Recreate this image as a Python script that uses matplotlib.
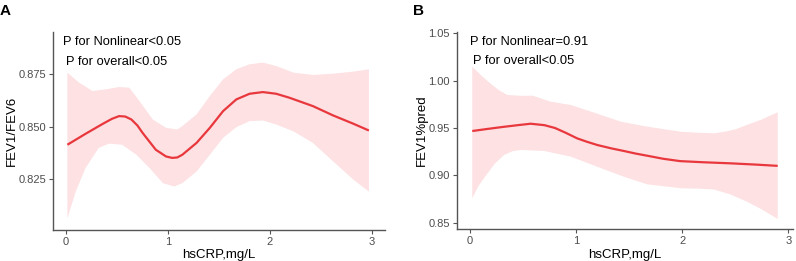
import matplotlib
matplotlib.use("Agg")
import matplotlib.pyplot as plt

plt.rcParams['font.family'] = ['Liberation Sans', 'DejaVu Sans']

# Panel A: FEV1/FEV6
a_x = [0.013, 0.19, 0.36, 0.45, 0.52, 0.58, 0.64, 0.70, 0.75, 0.88, 0.98, 1.04, 1.09, 1.14, 1.28, 1.41, 1.54, 1.67, 1.80, 1.93, 2.06, 2.19, 2.42, 2.62, 2.82, 2.97]
a_fit = [0.8413, 0.8465, 0.8513, 0.8537, 0.8550, 0.8548, 0.8534, 0.8505, 0.8470, 0.8389, 0.8357, 0.8350, 0.8352, 0.8365, 0.8422, 0.8494, 0.8574, 0.8630, 0.8657, 0.8665, 0.8657, 0.8638, 0.8598, 0.8553, 0.8513, 0.8481]
a_up_x = [0.013, 0.128, 0.26, 0.39, 0.52, 0.62, 0.72, 0.85, 0.98, 1.09, 1.14, 1.28, 1.41, 1.54, 1.67, 1.80, 1.93, 2.06, 2.23, 2.42, 2.62, 2.82, 2.97]
a_up = [0.8758, 0.8710, 0.8670, 0.8678, 0.8689, 0.8686, 0.8622, 0.8534, 0.8494, 0.8486, 0.8502, 0.8558, 0.8646, 0.8726, 0.8774, 0.8798, 0.8806, 0.8790, 0.8758, 0.8747, 0.8753, 0.8763, 0.8774]
a_lo_x = [0.013, 0.095, 0.19, 0.32, 0.42, 0.55, 0.69, 0.82, 0.95, 1.06, 1.14, 1.28, 1.41, 1.54, 1.67, 1.80, 1.93, 2.06, 2.23, 2.42, 2.62, 2.82, 2.97]
a_lo = [0.8061, 0.8189, 0.8301, 0.8398, 0.8418, 0.8413, 0.8365, 0.8301, 0.8229, 0.8213, 0.8229, 0.8285, 0.8365, 0.8446, 0.8497, 0.8526, 0.8529, 0.8510, 0.8477, 0.8422, 0.8333, 0.8245, 0.8189]

# Panel B: FEV1%pred
b_x = [0.02, 0.15, 0.30, 0.45, 0.57, 0.70, 0.80, 0.90, 1.01, 1.10, 1.20, 1.33, 1.45, 1.56, 1.67, 1.82, 1.98, 2.20, 2.45, 2.70, 2.90]
b_fit = [0.9468, 0.9488, 0.9510, 0.9530, 0.9545, 0.9530, 0.9500, 0.9450, 0.9390, 0.9355, 0.9320, 0.9285, 0.9257, 0.9230, 0.9207, 0.9175, 0.9150, 0.9138, 0.9127, 0.9113, 0.9100]
b_up_x = [0.02, 0.10, 0.18, 0.27, 0.35, 0.47, 0.59, 0.76, 0.95, 1.20, 1.42, 1.67, 1.99, 2.15, 2.30, 2.40, 2.50, 2.61, 2.75, 2.90]
b_up = [1.0147, 1.0060, 0.9980, 0.9900, 0.9849, 0.9840, 0.9841, 0.9778, 0.9743, 0.9650, 0.9567, 0.9514, 0.9460, 0.9450, 0.9444, 0.9460, 0.9485, 0.9532, 0.9590, 0.9666]
b_lo_x = [0.02, 0.08, 0.15, 0.23, 0.32, 0.40, 0.48, 0.70, 0.95, 1.20, 1.45, 1.67, 1.99, 2.15, 2.30, 2.45, 2.61, 2.75, 2.90]
b_lo = [0.8758, 0.8890, 0.9000, 0.9120, 0.9215, 0.9255, 0.9268, 0.9257, 0.9197, 0.9090, 0.8985, 0.8905, 0.8863, 0.8860, 0.8850, 0.8800, 0.8722, 0.8640, 0.8539]

x_ticks = [0, 1, 2, 3]
a_yticks = [0.825, 0.850, 0.875]
b_yticks = [0.85, 0.90, 0.95, 1.00, 1.05]

LINE = "#e8383d"
FILL = "#fde1e3"
AX = "#555555"
TICKC = "#4d4d4d"

fig = plt.figure(figsize=(7.96, 2.61), dpi=100)
axA = fig.add_axes([0.0666, 0.1188, 0.4171, 0.7582])
axB = fig.add_axes([0.5741, 0.1215, 0.4221, 0.7570])

def style(ax, xlim, ylim, yticks, yfmt, ylabel, ylab_x):
    ax.set_xlim(*xlim)
    ax.set_ylim(*ylim)
    ax.set_xticks(x_ticks)
    ax.set_xticklabels([str(t) for t in x_ticks])
    ax.set_yticks(yticks)
    ax.set_yticklabels([yfmt.format(t) for t in yticks])
    for s in ['top', 'right']:
        ax.spines[s].set_visible(False)
    for s in ['left', 'bottom']:
        ax.spines[s].set_color(AX)
        ax.spines[s].set_linewidth(1.0)
    ax.tick_params(axis='both', colors=AX, labelcolor=TICKC, labelsize=8,
                   length=3, width=0.8, pad=2)
    xl = ax.set_xlabel("hsCRP,mg/L", fontsize=9.5, color="black")
    ax.xaxis.set_label_coords(0.5, -0.128)
    xl.set_va('center')
    yl = ax.set_ylabel(ylabel, fontsize=9.5, color="black")
    ax.yaxis.set_label_coords(ylab_x, 0.5)
    yl.set_va('center')

axA.fill(a_up_x + a_lo_x[::-1], a_up + a_lo[::-1], color=FILL, lw=0)
axA.plot(a_x, a_fit, color=LINE, lw=1.6, solid_capstyle='butt', solid_joinstyle='round')
style(axA, (-0.128, 3.128), (0.8005, 0.8952), a_yticks, "{:.3f}", "FEV1/FEV6", -0.124)
axA.text(-0.03, 0.8905, "P for Nonlinear<0.05", fontsize=9.3, va='center', ha='left')
axA.text(0.0, 0.8808, "P for overall<0.05", fontsize=9.3, va='center', ha='left')

axB.fill(b_up_x + b_lo_x[::-1], b_up + b_lo[::-1], color=FILL, lw=0)
axB.plot(b_x, b_fit, color=LINE, lw=1.6, solid_capstyle='butt', solid_joinstyle='round')
style(axB, (-0.124, 3.044), (0.843, 1.0517), b_yticks, "{:.2f}", "FEV1%pred", -0.104)
axB.text(0.0, 1.0405, "P for Nonlinear=0.91", fontsize=9.3, va='center', ha='left')
axB.text(0.03, 1.021, "P for overall<0.05", fontsize=9.3, va='center', ha='left')

fig.text(0.0, 0.985, "A", fontsize=11, fontweight='bold', va='top', ha='left')
fig.text(0.519, 0.985, "B", fontsize=11, fontweight='bold', va='top', ha='left')

fig.savefig("out.png", dpi=100)
